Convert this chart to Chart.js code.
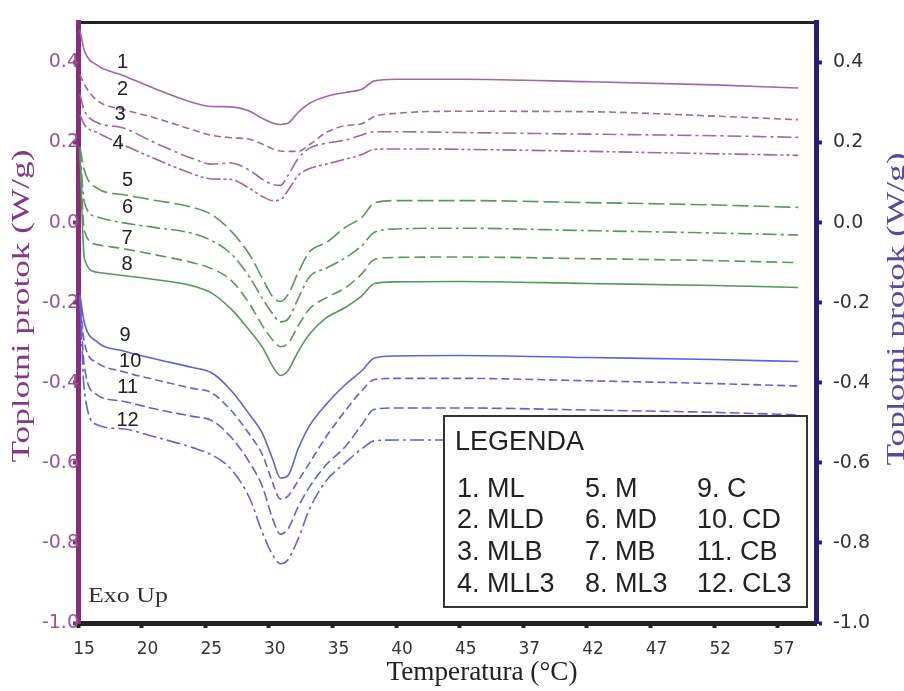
<!DOCTYPE html>
<html lang="en">
<head>
<meta charset="UTF-8">
<title>Toplotni protok</title>
<script src="https://cdn.jsdelivr.net/npm/chart.js@4.4.0/dist/chart.umd.min.js"></script>
<style>
  html, body { margin: 0; padding: 0; background: #fff; }
  #wrap { width: 904px; height: 691px; }
</style>
</head>
<body>
<div id="wrap"><canvas id="dsc"></canvas></div>
<script>
// sample positions on the x axis (axis units), shared by all curves
const temps = [15.15, 15.5, 16.5, 18.5, 21, 24, 25.5, 27, 28.5, 29.5, 30.3, 30.9, 31.5, 32.3, 33.2, 34.5, 36, 37.3, 38.3, 40, 45, 55, 65, 71.6];

// heat flow (W/g) per sample
const valML   = [0.48, 0.43, 0.393, 0.368, 0.335, 0.30, 0.29, 0.289, 0.278, 0.26, 0.249, 0.245, 0.248, 0.275, 0.298, 0.315, 0.325, 0.333, 0.354, 0.358, 0.358, 0.352, 0.344, 0.336];
const valMLD  = [0.37, 0.345, 0.305, 0.283, 0.262, 0.232, 0.218, 0.212, 0.208, 0.196, 0.184, 0.179, 0.178, 0.178, 0.195, 0.225, 0.242, 0.247, 0.265, 0.273, 0.278, 0.277, 0.266, 0.257];
const valMLB  = [0.32, 0.28, 0.25, 0.237, 0.2, 0.16, 0.146, 0.149, 0.13, 0.108, 0.095, 0.093, 0.118, 0.16, 0.186, 0.198, 0.206, 0.219, 0.227, 0.227, 0.225, 0.221, 0.217, 0.213];
const valMLL3 = [0.27, 0.245, 0.225, 0.195, 0.16, 0.122, 0.109, 0.108, 0.085, 0.065, 0.055, 0.057, 0.08, 0.118, 0.135, 0.146, 0.158, 0.17, 0.183, 0.184, 0.183, 0.178, 0.172, 0.168];
const valM    = [0.19, 0.13, 0.086, 0.07, 0.056, 0.038, 0.02, -0.02, -0.081, -0.14, -0.185, -0.197, -0.18, -0.125, -0.073, -0.05, -0.012, 0.013, 0.049, 0.055, 0.055, 0.05, 0.044, 0.038];
const valMD   = [0.185, 0.05, 0.014, 0, -0.012, -0.027, -0.045, -0.077, -0.137, -0.19, -0.228, -0.248, -0.241, -0.19, -0.135, -0.114, -0.088, -0.058, -0.024, -0.016, -0.014, -0.02, -0.026, -0.031];
const valMB   = [0.18, -0.02, -0.055, -0.065, -0.08, -0.1, -0.115, -0.143, -0.204, -0.258, -0.293, -0.31, -0.302, -0.258, -0.215, -0.188, -0.163, -0.128, -0.092, -0.087, -0.086, -0.09, -0.095, -0.1];
const valML3  = [0.175, -0.09, -0.124, -0.132, -0.142, -0.158, -0.176, -0.215, -0.27, -0.312, -0.359, -0.382, -0.37, -0.322, -0.278, -0.238, -0.212, -0.183, -0.152, -0.148, -0.147, -0.152, -0.157, -0.162];
const valC    = [-0.18, -0.25, -0.298, -0.32, -0.34, -0.362, -0.375, -0.418, -0.48, -0.527, -0.591, -0.638, -0.632, -0.565, -0.507, -0.454, -0.405, -0.37, -0.338, -0.333, -0.332, -0.337, -0.342, -0.347];
const valCD   = [-0.185, -0.3, -0.35, -0.372, -0.392, -0.414, -0.425, -0.468, -0.53, -0.58, -0.65, -0.69, -0.683, -0.645, -0.6, -0.535, -0.47, -0.42, -0.392, -0.389, -0.389, -0.395, -0.402, -0.408];
const valCB   = [-0.19, -0.36, -0.43, -0.446, -0.465, -0.484, -0.494, -0.535, -0.6, -0.66, -0.74, -0.778, -0.765, -0.71, -0.66, -0.605, -0.56, -0.505, -0.466, -0.463, -0.463, -0.468, -0.474, -0.48];
const valCL3  = [-0.195, -0.42, -0.505, -0.515, -0.535, -0.562, -0.58, -0.615, -0.689, -0.775, -0.83, -0.852, -0.842, -0.79, -0.715, -0.645, -0.6, -0.565, -0.545, -0.543, -0.543, -0.548, -0.553, -0.558];

const sampleNames = ['ML', 'MLD', 'MLB', 'MLL3', 'M', 'MD', 'MB', 'ML3', 'C', 'CD', 'CB', 'CL3'];
const seriesVals = [valML, valMLD, valMLB, valMLL3, valM, valMD, valMB, valML3, valC, valCD, valCB, valCL3];

// tick labels as printed on the original axis
const xTickValues = [15, 20, 25, 30, 35, 40, 45, 50, 55, 60, 65, 70];
const xTickLabels = ['15', '20', '25', '30', '35', '40', '45', '37', '42', '47', '52', '57'];
const yTicks = [-1.0, -0.8, -0.6, -0.4, -0.2, 0.0, 0.2, 0.4];

// where the curve numbers sit (axis units)
const tagX = [18.5, 18.5, 18.3, 18.15, 18.9, 18.9, 18.85, 18.85, 18.7, 19.1, 18.9, 18.9];
const tagY = [0.4, 0.333, 0.269, 0.198, 0.104, 0.038, -0.039, -0.105, -0.283, -0.347, -0.413, -0.495];

const PURPLE = '#a066a8', GREEN = '#559a5a', BLUE = '#6262d8';
const lineColors = [PURPLE, PURPLE, PURPLE, PURPLE, GREEN, GREEN, GREEN, GREEN, BLUE, BLUE, BLUE, BLUE];
const dashes = [
  [], [7, 4], [14, 4, 3, 4], [14, 3, 3, 3, 3, 3],
  [16, 5], [14, 4, 3, 4], [11, 5], [],
  [], [8, 4], [10, 4], [14, 4, 3, 4]
];

const datasets = seriesVals.map((vals, i) => ({
  label: (i + 1) + '. ' + sampleNames[i],
  data: temps.map((t, k) => ({ x: t, y: vals[k] })),
  borderColor: lineColors[i],
  borderWidth: 1.6,
  borderDash: dashes[i],
  pointRadius: 0,
  cubicInterpolationMode: 'monotone',
  fill: false,
  yAxisID: 'y'
}));

function putText(ctx, txt, x, y, o) {
  ctx.save();
  ctx.font = o.font;
  ctx.fillStyle = o.color || '#222';
  ctx.textAlign = o.align || 'left';
  ctx.textBaseline = o.baseline || 'alphabetic';
  ctx.translate(x, y);
  if (o.rot) ctx.rotate(o.rot);
  if (o.fit) ctx.scale(o.fit / ctx.measureText(txt).width, 1);
  ctx.fillText(txt, 0, 0);
  ctx.restore();
}

const decor = {
  id: 'decor',
  afterDraw(chart) {
    const ctx = chart.ctx;
    const xs = chart.scales.x, ys = chart.scales.y;

    // axis titles
    putText(ctx, 'Toplotni protok (W/g)', 29, 306, { font: '26px "Liberation Serif"', color: '#85378a', align: 'center', rot: -Math.PI / 2, fit: 313 });
    putText(ctx, 'Toplotni protok (W/g)', 904, 309, { font: '26px "Liberation Serif"', color: '#5549a0', align: 'center', rot: -Math.PI / 2, fit: 313 });
    putText(ctx, 'Temperatura (°C)', 482, 680, { font: '28px "Liberation Serif"', color: '#222', align: 'center', fit: 191 });
    putText(ctx, 'Exo Up', 88, 602, { font: '22px "Liberation Serif"', color: '#333', fit: 80 });

    // curve numbers
    tagX.forEach((tx, i) => {
      putText(ctx, String(i + 1), xs.getPixelForValue(tx), ys.getPixelForValue(tagY[i]),
        { font: '20px "Liberation Sans"', color: '#222', align: 'center', baseline: 'middle' });
    });

    // legend box
    ctx.save();
    ctx.fillStyle = '#fff';
    ctx.fillRect(444, 416, 363, 191);
    ctx.strokeStyle = '#333';
    ctx.lineWidth = 2;
    ctx.strokeRect(444, 416, 363, 191);
    ctx.restore();
    putText(ctx, 'LEGENDA', 455, 450, { font: '27px "Liberation Sans"', color: '#222' });
    const colX = [457, 585, 697];
    const rowY = [497, 528, 560, 592];
    sampleNames.forEach((n, i) => {
      putText(ctx, (i + 1) + '. ' + n, colX[Math.floor(i / 4)], rowY[i % 4], { font: '27px "Liberation Sans"', color: '#222' });
    });
  }
};

const tickFont = { family: 'DejaVu Sans', size: 19 };

new Chart(document.getElementById('dsc'), {
  type: 'line',
  data: { datasets: datasets },
  options: {
    responsive: true,
    maintainAspectRatio: false,
    animation: false,
    devicePixelRatio: 1,
    layout: { padding: 0 },
    plugins: { legend: { display: false }, tooltip: { enabled: false } },
    scales: {
      x: {
        type: 'linear', position: 'bottom', min: 15, max: 73,
        afterBuildTicks: s => { s.ticks = xTickValues.map(v => ({ value: v })); },
        afterFit: s => { s.height = 68; },
        ticks: {
          callback: v => xTickLabels[xTickValues.indexOf(v)],
          color: '#333', font: { family: 'DejaVu Sans', size: 17 },
          padding: 11, labelOffset: 6, maxRotation: 0, autoSkip: false
        },
        grid: { drawOnChartArea: false, drawTicks: true, tickLength: 5, tickWidth: 4, tickColor: '#222' },
        border: { color: '#222', width: 5 }
      },
      xTop: {
        type: 'linear', position: 'top', min: 15, max: 73,
        afterFit: s => { s.height = 16; },
        ticks: { display: false },
        grid: { display: false },
        border: { color: '#222', width: 3 }
      },
      y: {
        type: 'linear', position: 'left', min: -1.0, max: 0.5,
        afterBuildTicks: s => { s.ticks = yTicks.map(v => ({ value: v })); },
        afterFit: s => { s.width = 78; },
        ticks: { callback: v => v.toFixed(1), color: '#9a5497', font: tickFont, padding: -6 },
        grid: { drawOnChartArea: false, drawTicks: true, tickLength: 5, tickWidth: 4, tickColor: '#8c2a7e' },
        border: { color: '#8c2a7e', width: 5 }
      },
      y2: {
        type: 'linear', position: 'right', min: -1.0, max: 0.5,
        afterBuildTicks: s => { s.ticks = yTicks.map(v => ({ value: v })); },
        afterFit: s => { s.width = 88; },
        ticks: { callback: v => v.toFixed(1), color: '#333', font: tickFont, padding: 11 },
        grid: { drawOnChartArea: false, drawTicks: true, tickLength: 6, tickWidth: 4, tickColor: '#2e1c6e' },
        border: { color: '#2e1c6e', width: 5 }
      }
    }
  },
  plugins: [decor]
});
</script>
</body>
</html>
